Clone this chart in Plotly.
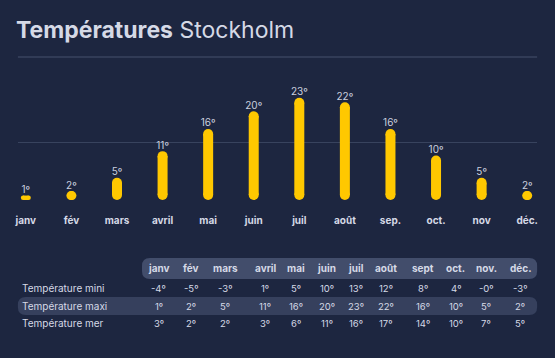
import plotly.graph_objects as go

# ---------------- data ----------------
months = ["janv", "fév", "mars", "avril", "mai", "juin", "juil", "août", "sep.", "oct.", "nov", "déc."]
temp_max = [1, 2, 5, 11, 16, 20, 23, 22, 16, 10, 5, 2]

table_header = ["janv", "fév", "mars", "avril", "mai", "juin", "juil", "août", "sept", "oct.", "nov.", "déc."]
row_labels = ["Température mini", "Température maxi", "Température mer"]
temp_mini = ["-4º", "-5º", "-3º", "1º", "5º", "10º", "13º", "12º", "8º", "4º", "-0º", "-3º"]
temp_maxi = ["1º", "2º", "5º", "11º", "16º", "20º", "23º", "22º", "16º", "10º", "5º", "2º"]
temp_mer = ["3º", "2º", "2º", "3º", "6º", "11º", "16º", "17º", "14º", "10º", "7º", "5º"]
table_rows = [temp_mini, temp_maxi, temp_mer]

# ---------------- style / layout ----------------
W, H = 555, 358
BG = "#1d2640"
BAR = "#ffc800"
TXT = "#d5d9e6"
GRID = "#38435e"
FONT = "Inter, Noto Sans, sans-serif"

plot_top, plot_bottom = 57, 200
plot_left, plot_right = 15, 538
y_max = 32.2
ppu = (plot_bottom - plot_top) / y_max
bar_w = 10
r = (bar_w / 2) / ppu

x_first, x_last = 23, 528
step = (x_last - x_first) / (len(months) - 1)
x_range = [-(x_first - plot_left) / step, (len(months) - 1) + (plot_right - x_last) / step]

def px(x):
    return x / W

def py(y):
    return 1 - y / H

xs = list(range(len(months)))

fig = go.Figure()

# rounded bars: tall ones are vertical capsules, short ones horizontal pills
for i, v in zip(xs, temp_max):
    h = v * ppu
    if h >= bar_w:
        fig.add_trace(go.Scatter(x=[i, i], y=[r, v - r], mode="lines+markers",
                                 line=dict(color=BAR, width=bar_w),
                                 marker=dict(color=BAR, size=bar_w, opacity=1, line=dict(width=0)),
                                 hoverinfo="skip", showlegend=False))
    else:
        dx = (bar_w - h) / 2 / step
        fig.add_trace(go.Scatter(x=[i - dx, i + dx], y=[v / 2, v / 2], mode="lines+markers",
                                 line=dict(color=BAR, width=h),
                                 marker=dict(color=BAR, size=h, opacity=1, line=dict(width=0)),
                                 hoverinfo="skip", showlegend=False))

fig.add_trace(go.Scatter(x=xs, y=temp_max, mode="text",
                         text=[f"{v}º" for v in temp_max], textposition="top center",
                         textfont=dict(color="#c9cfdf", size=10, family=FONT),
                         hoverinfo="skip", showlegend=False))

fig.update_layout(
    width=W, height=H,
    margin=dict(l=0, r=0, t=0, b=0),
    paper_bgcolor=BG, plot_bgcolor=BG,
    font=dict(family=FONT, color=TXT),
    xaxis=dict(domain=[px(plot_left), px(plot_right)], range=x_range,
               tickvals=xs, ticktext=[f"<b>{m}</b>" for m in months],
               tickfont=dict(size=10, color=TXT, family=FONT),
               ticks="outside", ticklen=11, tickcolor="rgba(0,0,0,0)",
               showgrid=False, zeroline=False, showline=False, fixedrange=True),
    yaxis=dict(domain=[py(plot_bottom), py(plot_top)], range=[0, y_max],
               tickvals=[0.2, 13], showticklabels=False, showgrid=True,
               gridcolor=GRID, gridwidth=1, zeroline=False, showline=False, fixedrange=True),
)

# top separator line
fig.add_shape(type="line", xref="paper", yref="paper",
              x0=px(plot_left), x1=px(plot_right), y0=py(plot_top), y1=py(plot_top),
              line=dict(color=GRID, width=1.5), layer="below")

# title
fig.add_annotation(xref="paper", yref="paper", x=px(11), y=py(30), xanchor="left", yanchor="middle",
                   text="<b>Températures</b> Stockholm", showarrow=False,
                   font=dict(size=23, color=TXT, family=FONT))

def rrect(x0, y0, x1, y1, rad):
    return (f"M {px(x0+rad)},{py(y0)} L {px(x1-rad)},{py(y0)} "
            f"Q {px(x1)},{py(y0)} {px(x1)},{py(y0+rad)} L {px(x1)},{py(y1-rad)} "
            f"Q {px(x1)},{py(y1)} {px(x1-rad)},{py(y1)} L {px(x0+rad)},{py(y1)} "
            f"Q {px(x0)},{py(y1)} {px(x0)},{py(y1-rad)} L {px(x0)},{py(y0+rad)} "
            f"Q {px(x0)},{py(y0)} {px(x0+rad)},{py(y0)} Z")

fig.add_shape(type="path", xref="paper", yref="paper", path=rrect(140, 258, 538, 279, 8),
              fillcolor="#424d6b", line=dict(width=0), layer="below")
fig.add_shape(type="path", xref="paper", yref="paper", path=rrect(15, 297, 538, 315, 8),
              fillcolor="#36405d", line=dict(width=0), layer="below")

col_x = [157, 189, 224, 264, 295, 326, 356, 386, 423, 456, 487, 521]
header_y = 268
row_y = [288, 306, 323]

for cx, h in zip(col_x, table_header):
    fig.add_annotation(xref="paper", yref="paper", x=px(cx), y=py(header_y),
                       text=f"<b>{h}</b>", showarrow=False, xanchor="center", yanchor="middle",
                       font=dict(size=10, color=TXT, family=FONT))

for ry, lab, vals in zip(row_y, row_labels, table_rows):
    fig.add_annotation(xref="paper", yref="paper", x=px(17), y=py(ry), text=lab,
                       showarrow=False, xanchor="left", yanchor="middle",
                       font=dict(size=10, color=TXT, family=FONT))
    for cx, v in zip(col_x, vals):
        fig.add_annotation(xref="paper", yref="paper", x=px(cx), y=py(ry), text=v,
                           showarrow=False, xanchor="center", yanchor="middle",
                           font=dict(size=9.5, color=TXT, family=FONT))

fig.write_html("out.html", config={"displayModeBar": False},
               post_script="document.body.style.margin='0px';document.body.style.overflow='hidden';")
